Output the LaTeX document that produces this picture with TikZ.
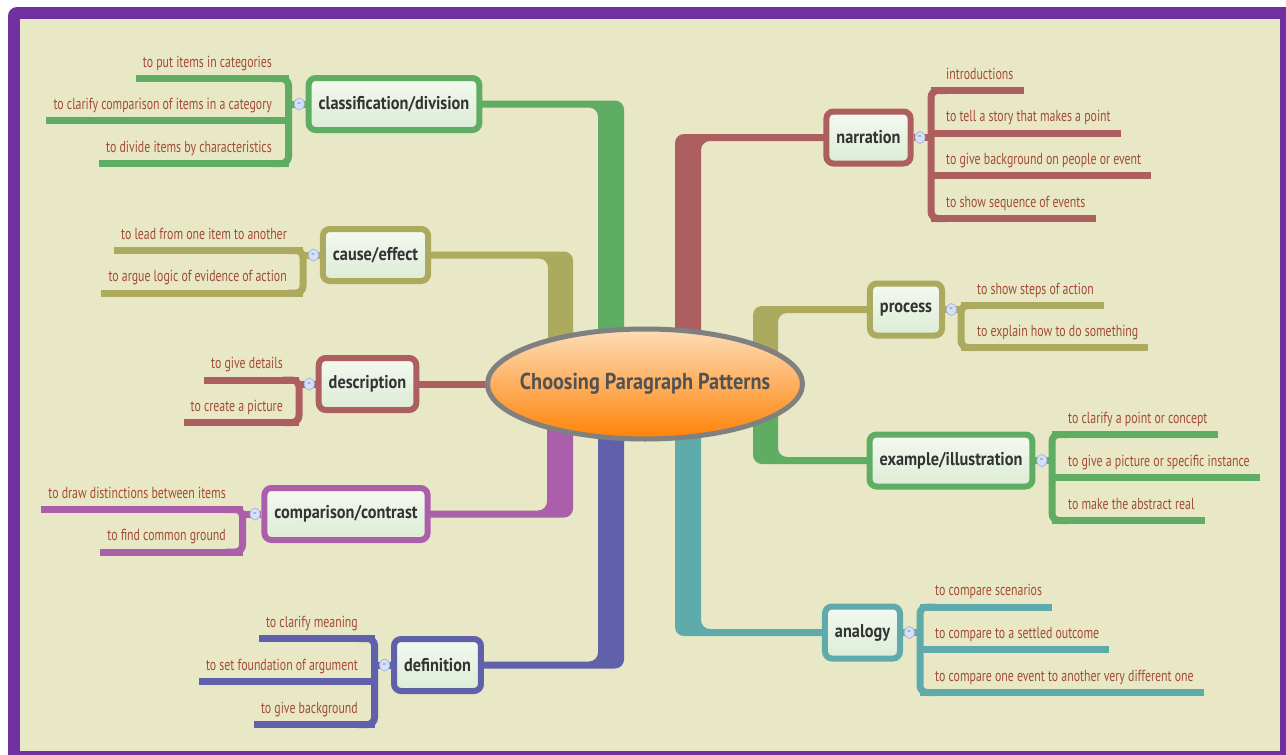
\documentclass[tikz,border=0pt]{standalone}
\usepackage{fontspec}
\usepackage{tikz}
\usetikzlibrary{positioning,shapes.geometric,backgrounds}
\newfontfamily\leaffont[FakeStretch=0.74]{PT Sans}
\newfontfamily\topicfont[FakeStretch=0.88]{PT Sans}
\definecolor{FramePurple}{HTML}{7030A0}
\definecolor{Paper}{HTML}{E8E8C6}
\definecolor{MapGreen}{HTML}{5EAD62}
\definecolor{MapOlive}{HTML}{ABAA5E}
\definecolor{MapRed}{HTML}{AD5F5F}
\definecolor{MapPurple}{HTML}{AB5FAB}
\definecolor{MapBlue}{HTML}{6060AB}
\definecolor{MapTeal}{HTML}{5FABAB}
\definecolor{LeafText}{HTML}{A34B36}
\definecolor{TopicText}{HTML}{333333}
\definecolor{TopicTop}{HTML}{F4F9F0}
\definecolor{TopicBottom}{HTML}{DCECD5}
\definecolor{CoreTop}{HTML}{FDDDB8}
\definecolor{CoreBottom}{HTML}{FF8206}
\definecolor{CoreLine}{HTML}{808080}
\definecolor{KnobFill}{HTML}{D6E1F8}
\definecolor{KnobLine}{HTML}{A6B7E2}
\definecolor{KnobMark}{HTML}{6A7BB8}
\tikzset{%
  core/.style={ellipse,draw=CoreLine,line width=5pt,minimum width=315pt,
    minimum height=110pt,top color=CoreTop,bottom color=CoreBottom,
    text=TopicText!85,font=\topicfont\bfseries\fontsize{23}{27}\selectfont},
  topic/.style={draw=#1,line width=6pt,rounded corners=7pt,top color=TopicTop,
    bottom color=TopicBottom,text=TopicText,minimum height=52pt,inner xsep=10pt,
    font=\topicfont\bfseries\fontsize{18.5}{22}\selectfont},
  leaf/.style={text=LeafText,inner sep=0pt,font=\leaffont\fontsize{16}{19}\selectfont},
  twig/.style={draw=#1,line width=7pt},
  knob/.style={ellipse,draw=KnobLine,fill=KnobFill,line width=0.8pt,minimum width=10pt,
    minimum height=12pt,inner sep=0pt,text=KnobMark,font=\bfseries\fontsize{9}{9}\selectfont}
}
\begin{document}
\begin{tikzpicture}[x=1pt,y=-1pt]
  \useasboundingbox (0,0) rectangle (1286,755);
  \clip (0,0) rectangle (1286,755);
  \begin{scope}[on background layer]
    \fill[white] (0,0) rectangle (1286,755);
    \fill[FramePurple,rounded corners=9pt] (8,7) rectangle (1300,770);
    \fill[Paper] (20,19) rectangle (1280,751);
  \end{scope}

  \node[core] (root) at (645,384) {\makebox[0pt]{Choosing Paragraph Patterns}};
  \node[topic=MapGreen] (classif) at (394,104) {classification/division};
  \node[topic=MapOlive] (cause) at (375.5,255) {cause/effect};
  \node[topic=MapRed] (descr) at (367.5,384) {description};
  \node[topic=MapPurple] (compar) at (346,514) {comparison/contrast};
  \node[topic=MapBlue] (defin) at (437.5,665) {definition};
  \node[topic=MapRed] (narr) at (868.5,137.5) {narration};
  \node[topic=MapOlive] (proc) at (906,309.5) {process};
  \node[topic=MapGreen] (examp) at (951,460.5) {example/illustration};
  \node[topic=MapTeal] (analog) at (862.5,632.5) {analogy};

  \begin{scope}[on background layer,rounded corners=9pt]
    \fill[MapGreen] ([yshift=-3.5pt]classif.center) -| ([xshift=-47pt]root.center)
      -- ([xshift=-21pt]root.center) |- ([yshift=3.5pt]classif.center) -- cycle;
    \fill[MapOlive] ([yshift=-3.5pt]cause.center) -| ([xshift=-97pt]root.center)
      -- ([xshift=-72pt]root.center) |- ([yshift=3.5pt]cause.center) -- cycle;
    \fill[MapPurple] ([yshift=3.5pt]compar.center) -| ([xshift=-98pt]root.center)
      -- ([xshift=-72pt]root.center) |- ([yshift=-3.5pt]compar.center) -- cycle;
    \fill[MapBlue] ([yshift=3.5pt]defin.center) -| ([xshift=-47pt]root.center)
      -- ([xshift=-21pt]root.center) |- ([yshift=-3.5pt]defin.center) -- cycle;
    \fill[MapRed] ([yshift=-3.5pt]narr.center) -| ([xshift=56pt]root.center)
      -- ([xshift=30pt]root.center) |- ([yshift=3.5pt]narr.center) -- cycle;
    \fill[MapOlive] ([yshift=-3.5pt]proc.center) -| ([xshift=133pt]root.center)
      -- ([xshift=108pt]root.center) |- ([yshift=3.5pt]proc.center) -- cycle;
    \fill[MapGreen] ([yshift=3.5pt]examp.center) -| ([xshift=133pt]root.center)
      -- ([xshift=108pt]root.center) |- ([yshift=-3.5pt]examp.center) -- cycle;
    \fill[MapTeal] ([yshift=3.5pt]analog.center) -| ([xshift=56pt]root.center)
      -- ([xshift=30pt]root.center) |- ([yshift=-3.5pt]analog.center) -- cycle;
    \draw[twig=MapRed] (descr.center) -- (root.center);
  \end{scope}

  % left side
  \foreach \txt/\yy [count=\i] in {to put items in categories/78.5,
      to clarify comparison of items in a category/120.5,
      to divide items by characteristics/163.5}{
    \node[leaf,anchor=base east] (classif-\i) at (272,\yy-11.5) {\txt};
    \draw[twig=MapGreen] (classif-\i.base west) ++(-7,11.5) -- (288.5,\yy);
  }
  \draw[twig=MapGreen,rounded corners=7pt] (272,78.5) -| (288.5,163.5) -- (272,163.5);
  \draw[twig=MapGreen] (288.5,104) -- (classif.west);
  \node[knob,left=1pt of classif] (classif-k) {-};

  \foreach \txt/\yy [count=\i] in {to lead from one item to another/250.5,
      to argue logic of evidence of action/293}{
    \node[leaf,anchor=base east] (cause-\i) at (287,\yy-11.5) {\txt};
    \draw[twig=MapOlive] (cause-\i.base west) ++(-7,11.5) -- (303,\yy);
  }
  \draw[twig=MapOlive,rounded corners=7pt] (287,250.5) -| (303,293) -- (287,293);
  \draw[twig=MapOlive] (303,255) -- (cause.west);
  \node[knob,left=1pt of cause] (cause-k) {-};

  \foreach \txt/\yy [count=\i] in {to give details/380, to create a picture/422.5}{
    \node[leaf,anchor=base east] (descr-\i) at (283,\yy-11.5) {\txt};
    \draw[twig=MapRed] (descr-\i.base west) ++(-7,11.5) -- (299,\yy);
  }
  \draw[twig=MapRed,rounded corners=7pt] (283,380) -| (299,422.5) -- (283,422.5);
  \draw[twig=MapRed] (299,384) -- (descr.west);
  \node[knob,left=1pt of descr] (descr-k) {-};

  \foreach \txt/\yy [count=\i] in {to draw distinctions between items/509.5,
      to find common ground/552}{
    \node[leaf,anchor=base east] (compar-\i) at (226,\yy-11.5) {\txt};
    \draw[twig=MapPurple] (compar-\i.base west) ++(-7,11.5) -- (242.5,\yy);
  }
  \draw[twig=MapPurple,rounded corners=7pt] (226,509.5) -| (242.5,552) -- (226,552);
  \draw[twig=MapPurple] (242.5,514) -- (compar.west);
  \node[knob,left=1pt of compar] (compar-k) {-};

  \foreach \txt/\yy [count=\i] in {to clarify meaning/638.5,
      to set foundation of argument/681.5, to give background/724.5}{
    \node[leaf,anchor=base east] (defin-\i) at (358,\yy-11.5) {\txt};
    \draw[twig=MapBlue] (defin-\i.base west) ++(-7,11.5) -- (374.5,\yy);
  }
  \draw[twig=MapBlue,rounded corners=7pt] (358,638.5) -| (374.5,724.5) -- (358,724.5);
  \draw[twig=MapBlue] (374.5,665) -- (defin.west);
  \node[knob,left=1pt of defin] (defin-k) {-};

  % right side
  \foreach \txt/\yy [count=\i] in {introductions/90.5,
      to tell a story that makes a point/133,
      to give background on people or event/175.5,
      to show sequence of events/218.5}{
    \node[leaf,anchor=base west] (narr-\i) at (946,\yy-11.5) {\txt};
    \draw[twig=MapRed] (narr-\i.base east) ++(10,11.5) -- (931,\yy);
  }
  \draw[twig=MapRed,rounded corners=7pt] (946,90.5) -| (931,218.5) -- (946,218.5);
  \draw[twig=MapRed] (narr.east) -- (931,137.5);
  \node[knob,right=1pt of narr] (narr-k) {-};

  \foreach \txt/\yy [count=\i] in {to show steps of action/305.5,
      to explain how to do something/347.5}{
    \node[leaf,anchor=base west] (proc-\i) at (977,\yy-11.5) {\txt};
    \draw[twig=MapOlive] (proc-\i.base east) ++(10,11.5) -- (961,\yy);
  }
  \draw[twig=MapOlive,rounded corners=7pt] (977,305.5) -| (961,347.5) -- (977,347.5);
  \draw[twig=MapOlive] (proc.east) -- (961,309.5);
  \node[knob,right=1pt of proc] (proc-k) {-};

  \foreach \txt/\yy [count=\i] in {to clarify a point or concept/434.5,
      to give a picture or specific instance/477.5,
      to make the abstract real/520.5}{
    \node[leaf,anchor=base west] (examp-\i) at (1068,\yy-11.5) {\txt};
    \draw[twig=MapGreen] (examp-\i.base east) ++(10,11.5) -- (1052,\yy);
  }
  \draw[twig=MapGreen,rounded corners=7pt] (1068,434.5) -| (1052,520.5) -- (1068,520.5);
  \draw[twig=MapGreen] (examp.east) -- (1052,460.5);
  \node[knob,right=1pt of examp] (examp-k) {-};

  \foreach \txt/\yy [count=\i] in {to compare scenarios/607,
      to compare to a settled outcome/649.5,
      to compare one event to another very different one/692.5}{
    \node[leaf,anchor=base west] (analog-\i) at (935,\yy-11.5) {\txt};
    \draw[twig=MapTeal] (analog-\i.base east) ++(10,11.5) -- (920,\yy);
  }
  \draw[twig=MapTeal,rounded corners=7pt] (935,607) -| (920,692.5) -- (935,692.5);
  \draw[twig=MapTeal] (analog.east) -- (920,632.5);
  \node[knob,right=1pt of analog] (analog-k) {-};
\end{tikzpicture}
\end{document}
